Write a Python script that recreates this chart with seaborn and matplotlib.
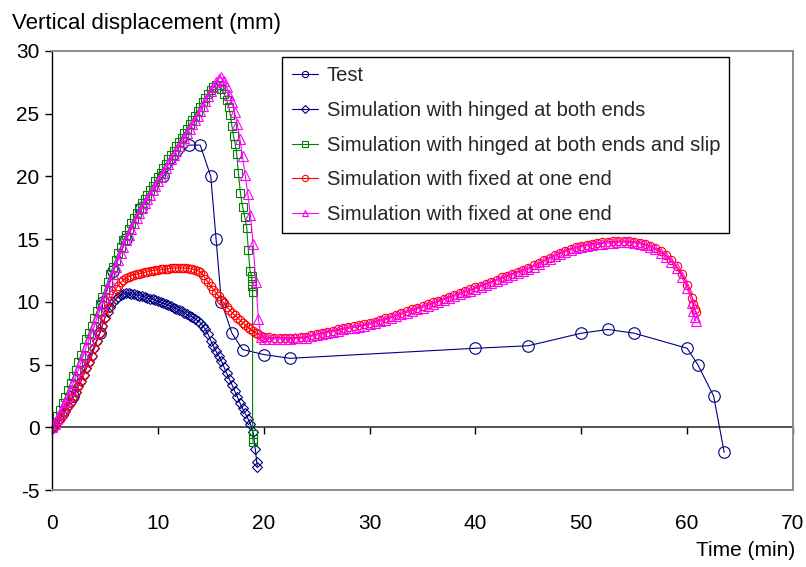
import matplotlib
matplotlib.use("Agg")
import matplotlib.pyplot as plt
import pandas as pd
import seaborn as sns

# ---------------- data ----------------
TEST_T = [0, 2, 4.5, 4.8, 5.8, 7, 8.4, 10.5, 12.9, 14, 15, 15.5, 16, 17, 18, 20, 22.5,
          40, 45, 50, 52.5, 55, 60, 61, 62.5, 63.5]
TEST_Y = [0, 2.5, 7.5, 10, 12.5, 15, 17.5, 20, 22.5, 22.5, 20, 15, 10, 7.5, 6.2, 5.8, 5.5,
          6.3, 6.5, 7.5, 7.8, 7.5, 6.3, 5.0, 2.5, -2.0]

T_EARLY = [0, 0.25, 0.5, 0.75, 1, 1.25, 1.5, 1.75, 2, 2.25, 2.5, 2.75, 3, 3.25, 3.5, 3.75,
           4, 4.25, 4.5, 4.75, 5, 5.25, 5.5, 5.75, 6, 6.25, 6.5, 6.75, 7, 7.25, 7.5, 7.75,
           8, 8.25, 8.5, 8.75, 9, 9.25, 9.5, 9.75, 10, 10.25, 10.5, 10.75, 11, 11.25, 11.5,
           11.75, 12, 12.25, 12.5, 12.75, 13, 13.25, 13.5, 13.75, 14, 14.25, 14.5, 14.75,
           15, 15.25, 15.5, 15.75, 16, 16.25, 16.5, 16.75, 17, 17.25, 17.5, 17.75, 18,
           18.25, 18.5, 18.75, 19, 19.25, 19.5, 19.75, 20]
T_LATE = [20.5, 21, 21.5, 22, 22.5, 23, 23.5, 24, 24.5, 25, 25.5, 26, 26.5, 27, 27.5, 28,
          28.5, 29, 29.5, 30, 30.5, 31, 31.5, 32, 32.5, 33, 33.5, 34, 34.5, 35, 35.5, 36,
          36.5, 37, 37.5, 38, 38.5, 39, 39.5, 40, 40.5, 41, 41.5, 42, 42.5, 43, 43.5, 44,
          44.5, 45, 45.5, 46, 46.5, 47, 47.5, 48, 48.5, 49, 49.5, 50, 50.5, 51, 51.5, 52,
          52.5, 53, 53.5, 54, 54.5, 55, 55.5, 56, 56.5, 57, 57.5, 58, 58.5, 59, 59.5, 60,
          60.5]
T_END = [60.6, 60.7, 60.8]

# Simulation with hinged at both ends (navy diamonds)
HINGED_T = T_EARLY[:77] + [19.2, 19.35, 19.4]
HINGED_Y = [0, 0.2, 0.45, 0.7, 1.0, 1.3, 1.7, 2.0, 2.4, 2.8,
            3.3, 3.7, 4.2, 4.7, 5.2, 5.7, 6.3, 6.9, 7.5, 8.1,
            8.7, 9.2, 9.6, 9.95, 10.2, 10.4, 10.55, 10.65, 10.7, 10.68,
            10.65, 10.6, 10.55, 10.5, 10.45, 10.4, 10.3, 10.25, 10.2, 10.12,
            10.05, 9.98, 9.9, 9.82, 9.75, 9.65, 9.55, 9.45, 9.35, 9.25,
            9.15, 9.0, 8.9, 8.8, 8.65, 8.5, 8.35, 8.1, 7.8, 7.4,
            6.9, 6.45, 6.05, 5.7, 5.3, 4.8, 4.3, 3.85, 3.4, 2.9,
            2.45, 1.95, 1.5, 1.1, 0.7, 0.25, -0.4,
            -1.7, -2.8, -3.2]

# Simulation with hinged at both ends and slip (green squares)
SLIP_T = T_EARLY[:63] + [15.75, 16.0, 16.25, 16.5, 16.7, 16.85, 17.0, 17.15, 17.3, 17.45,
                         17.6, 17.8, 18.0, 18.2, 18.4, 18.55, 18.7, 18.85, 18.9, 18.93,
                         18.95, 18.95, 18.97, 18.98]
SLIP_Y = [0, 0.4, 0.9, 1.4, 1.9, 2.4, 2.95, 3.5, 4.05, 4.6,
          5.2, 5.8, 6.4, 7.0, 7.55, 8.1, 8.7, 9.25, 9.85, 10.4,
          11.0, 11.6, 12.2, 12.8, 13.35, 13.9, 14.4, 14.9, 15.35, 15.8,
          16.25, 16.7, 17.1, 17.5, 17.85, 18.2, 18.55, 18.9, 19.25, 19.6,
          19.95, 20.3, 20.65, 21.0, 21.35, 21.7, 22.05, 22.4, 22.75, 23.1,
          23.45, 23.8, 24.15, 24.5, 24.85, 25.2, 25.55, 25.9, 26.25, 26.6,
          26.9, 27.15, 27.3,
          27.25, 27.0, 26.6, 26.1, 25.5, 24.9, 24.0, 23.2, 22.6, 21.8,
          20.3, 18.7, 17.6, 16.8, 15.9, 14.1, 12.5, 12.1, 11.7, 11.3,
          10.8, -0.5, -0.9, -1.2]

# Simulation with fixed at one end (red circles)
FIXED1_T = T_EARLY + T_LATE + T_END
FIXED1_Y = [0, 0.2, 0.45, 0.7, 1.0, 1.3, 1.7, 2.0, 2.4, 2.8,
            3.3, 3.7, 4.2, 4.7, 5.2, 5.7, 6.3, 6.9, 7.5, 8.1,
            8.8, 9.5, 10.1, 10.6, 11.0, 11.3, 11.55, 11.75, 11.9, 12.0,
            12.1, 12.15, 12.2, 12.25, 12.3, 12.35, 12.4, 12.45, 12.5, 12.52,
            12.55, 12.58, 12.6, 12.62, 12.65, 12.67, 12.7, 12.7, 12.7, 12.7,
            12.7, 12.68, 12.65, 12.6, 12.55, 12.48, 12.4, 12.15, 11.85, 11.55,
            11.25, 10.98, 10.72, 10.45, 10.15, 9.88, 9.62, 9.38, 9.15, 8.95,
            8.75, 8.55, 8.35, 8.15, 7.97, 7.8, 7.65, 7.52, 7.4, 7.3,
            7.22,
            7.18, 7.15, 7.14, 7.13, 7.13, 7.15, 7.18, 7.23, 7.33, 7.43,
            7.53, 7.63, 7.71, 7.8, 7.9, 7.98, 8.05, 8.13, 8.2, 8.3,
            8.43, 8.55, 8.68, 8.8, 8.95, 9.1, 9.25, 9.4, 9.53, 9.65,
            9.8, 9.95, 10.1, 10.25, 10.4, 10.55, 10.7, 10.85, 11.0, 11.15,
            11.3, 11.45, 11.6, 11.78, 11.95, 12.1, 12.25, 12.4, 12.55, 12.7,
            12.9, 13.1, 13.32, 13.53, 13.73, 13.92, 14.08, 14.23, 14.37, 14.48,
            14.57, 14.64, 14.7, 14.75, 14.8, 14.83, 14.85, 14.85, 14.84, 14.8,
            14.73, 14.63, 14.48, 14.28, 14.03, 13.72, 13.33, 12.85, 12.2, 11.35,
            10.3,
            9.8, 9.4, 9.2]

# Simulation with fixed at one end (magenta triangles)
FIXED2_T = T_EARLY + T_LATE + T_END
FIXED2_Y = [0, 0.3, 0.7, 1.1, 1.6, 2.05, 2.5, 3.0, 3.5, 4.05,
            4.6, 5.2, 5.8, 6.4, 7.0, 7.55, 8.1, 8.7, 9.25, 9.85,
            10.4, 11.0, 11.6, 12.2, 12.8, 13.35, 13.9, 14.4, 14.9, 15.35,
            15.8, 16.25, 16.7, 17.1, 17.5, 17.85, 18.2, 18.55, 18.9, 19.25,
            19.6, 19.95, 20.3, 20.65, 21.0, 21.35, 21.7, 22.05, 22.4, 22.75,
            23.1, 23.45, 23.8, 24.15, 24.5, 24.85, 25.2, 25.6, 26.0, 26.4,
            26.8, 27.15, 27.5, 27.8, 27.9, 27.6, 27.1, 26.5, 25.9, 25.1,
            24.2, 23.0, 21.6, 20.1, 18.6, 16.9, 14.6, 11.6, 8.6, 7.2,
            7.05,
            7.05, 7.05, 7.05, 7.05, 7.05, 7.08, 7.1, 7.15, 7.25, 7.35,
            7.45, 7.55, 7.62, 7.7, 7.8, 7.88, 7.95, 8.03, 8.1, 8.2,
            8.33, 8.45, 8.58, 8.7, 8.85, 9.0, 9.15, 9.3, 9.43, 9.55,
            9.7, 9.85, 10.0, 10.15, 10.3, 10.45, 10.6, 10.75, 10.9, 11.05,
            11.2, 11.35, 11.5, 11.68, 11.85, 12.0, 12.15, 12.3, 12.45, 12.6,
            12.8, 13.0, 13.22, 13.43, 13.63, 13.82, 13.98, 14.13, 14.27, 14.38,
            14.47, 14.54, 14.6, 14.65, 14.7, 14.73, 14.75, 14.75, 14.74, 14.7,
            14.63, 14.53, 14.38, 14.18, 13.92, 13.6, 13.2, 12.7, 12.0, 11.1,
            9.9,
            9.3, 8.8, 8.5]

LABELS = ["Test",
          "Simulation with hinged at both ends",
          "Simulation with hinged at both ends and slip",
          "Simulation with fixed at one end",
          "Simulation with fixed at one end"]
X_TICKS = [0, 10, 20, 30, 40, 50, 60, 70]
Y_TICKS = [-5, 0, 5, 10, 15, 20, 25, 30]

# ---------------- style ----------------
sns.set_theme(style="ticks")
plt.rcParams["font.family"] = ["Liberation Sans", "DejaVu Sans"]
plt.rcParams["axes.unicode_minus"] = False

W, H = 806, 567
fig = plt.figure(figsize=(W / 100, H / 100), dpi=100)
L, R, T, B = 52, 793, 51, 490
ax = fig.add_axes([L / W, 1 - B / H, (R - L) / W, (B - T) / H])

series = [
    (TEST_T, TEST_Y, "#000080", "o", 8.3),
    (HINGED_T, HINGED_Y, "#000080", "D", 4.6),
    (SLIP_T, SLIP_Y, "#008000", "s", 5.2),
    (FIXED1_T, FIXED1_Y, "#FF0000", "o", 6.0),
    (FIXED2_T, FIXED2_Y, "#FF00FF", "^", 6.6),
]
for (t, y, col, mk, ms), lab in zip(series, LABELS):
    df = pd.DataFrame({"time": t, "disp": y})
    sns.lineplot(data=df, x="time", y="disp", ax=ax, sort=False, estimator=None,
                 color=col, linewidth=0.8, marker=mk, markersize=ms,
                 markerfacecolor="none", markeredgecolor=col, markeredgewidth=0.8,
                 label=lab, legend=False)

ax.set_xlim(0, 70)
ax.set_ylim(-5, 30)
ax.set_xticks(X_TICKS)
ax.set_yticks(Y_TICKS)
ax.set_xlabel("")
ax.set_ylabel("")
ax.grid(False)

for s in ["top", "right", "bottom"]:
    ax.spines[s].set_color("#8c8c8c")
    ax.spines[s].set_linewidth(1.4)
ax.spines["left"].set_color("black")
ax.spines["left"].set_linewidth(1.0)

ax.tick_params(axis="x", length=0, pad=17, labelsize=15, colors="black")
ax.tick_params(axis="y", length=5, width=1, direction="out", pad=4, labelsize=15,
               colors="black")

# x axis crossing at y = 0 (ticks only)
sec = ax.secondary_xaxis(5 / 35)
sec.set_xticks(X_TICKS)
sec.tick_params(axis="x", direction="out", length=5, width=1, color="black",
                labelbottom=False)
sec.spines["bottom"].set_color("#333333")
sec.spines["bottom"].set_linewidth(1.2)

leg = ax.legend(loc="upper left", bbox_to_anchor=(0.311, 0.986), borderaxespad=0,
                frameon=True, fancybox=False, framealpha=1, edgecolor="black",
                fontsize=14.5, handlelength=1.33, handletextpad=0.42,
                borderpad=0.45, labelspacing=0.78)
leg.get_frame().set_linewidth(1.0)
for h in leg.legend_handles:
    h.set_markersize(4.5)

fig.text(12 / W, 1 - 24 / H, "Vertical displacement (mm)", fontsize=16,
         ha="left", va="center", color="black")
fig.text(795 / W, 1 - 551 / H, "Time (min)", fontsize=15, ha="right",
         va="center", color="black")

fig.savefig("out.png", dpi=100)
